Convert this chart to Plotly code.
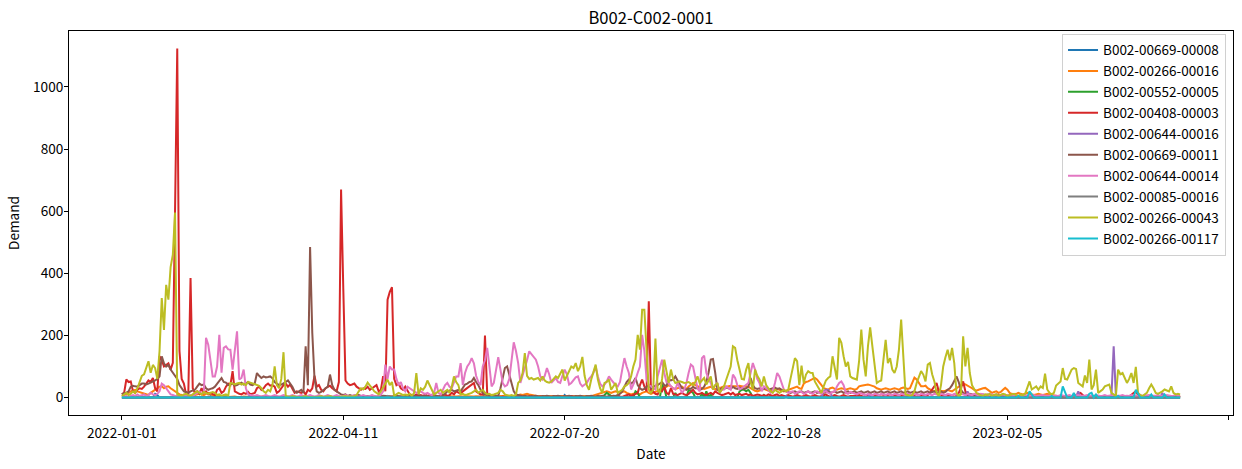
import pandas as pd
import plotly.graph_objects as go

START = "2022-01-01"
TITLE = "B002-C002-0001"
NAMES = ["B002-00669-00008", "B002-00266-00016", "B002-00552-00005", "B002-00408-00003",
         "B002-00644-00016", "B002-00669-00011", "B002-00644-00014", "B002-00085-00016",
         "B002-00266-00043", "B002-00266-00117"]
COLORS = ["#1f77b4", "#ff7f0e", "#2ca02c", "#d62728", "#9467bd",
          "#8c564b", "#e377c2", "#7f7f7f", "#bcbd22", "#17becf"]
TICK_DATES = ["2022-01-01", "2022-04-11", "2022-07-20", "2022-10-28", "2023-02-05", "2023-05-16"]
TICK_TEXT = ["2022-01-01", "2022-04-11", "2022-07-20", "2022-10-28", "2023-02-05", ""]

red = [10, 15, 58, 50, 52, 20, 15, 25, 30, 28,
       35, 45, 55, 50, 63, 30, 20, 133, 120, 100,
       105, 110, 90, 112, 600, 1124, 150, 60, 45, 10,
       12, 385, 30, 15, 20, 12, 30, 15, 20, 10,
       15, 12, 8, 25, 30, 15, 20, 35, 45, 40,
       85, 20, 15, 12, 10, 15, 12, 18, 10, 12,
       15, 30, 35, 25, 30, 40, 45, 38, 40, 35,
       15, 20, 30, 40, 45, 35, 42, 30, 15, 20,
       18, 15, 20, 10, 25, 20, 30, 70, 35, 40,
       25, 20, 30, 35, 38, 30, 25, 20, 50, 670,
       350, 55, 45, 40, 42, 45, 35, 30, 25, 30,
       28, 35, 25, 30, 35, 40, 20, 25, 69, 20,
       315, 340, 355, 60, 40, 45, 30, 25, 35, 20,
       10, 8, 5, 10, 5, 8, 5, 10, 5, 8,
       5, 8, 5, 3, 5, 8, 10, 5, 8, 15,
       10, 20, 15, 12, 20, 25, 30, 35, 40, 47,
       20, 15, 10, 10, 200, 15, 5, 3, 2, 0,
       2, 0, 3, 2, 0, 2, 3, 0, 2, 0,
       3, 2, 0, 2, 5, 3, 2, 0, 2, 3,
       0, 2, 3, 0, 2, 0, 3, 2, 0, 2,
       3, 0, 2, 5, 3, 0, 2, 3, 0, 2,
       0, 3, 2, 0, 2, 5, 3, 2, 0, 2,
       3, 2, 0, 5, 8, 3, 2, 5, 8, 10,
       5, 8, 10, 15, 40, 58, 36, 20, 310, 15,
       20, 12, 10, 25, 20, 35, 15, 10, 30, 12,
       10, 8, 12, 15, 10, 8, 12, 20, 25, 15,
       10, 12, 15, 10, 8, 12, 15, 10, 20, 15,
       12, 8, 10, 12, 15, 10, 15, 8, 10, 12,
       8, 10, 12, 8, 10, 5, 8, 10, 8, 5,
       8, 5, 10, 8, 5, 8, 10, 5, 8, 5,
       5, 8, 5, 3, 5, 8, 5, 3, 5, 8,
       5, 3, 5, 8, 5, 3, 5, 8, 10, 5,
       3, 5, 8, 5, 3, 5, 8, 5, 3, 5,
       5, 3, 5, 8, 5, 3, 5, 8, 5, 3,
       5, 8, 5, 3, 5, 8, 5, 3, 5, 8,
       5, 3, 5, 8, 5, 3, 5, 8, 5, 3,
       5, 8, 10, 5, 8, 15, 25, 35, 47, 20,
       8, 5, 3, 5, 8, 5, 3, 5, 15, 30,
       52, 20, 8, 5, 3, 5, 3, 2, 3, 5,
       3, 2, 3, 5, 3, 2, 3, 2, 3, 5,
       3, 2, 3, 2, 3, 5, 3, 2, 3, 2,
       3, 5, 3, 2, 3, 2, 3, 5, 3, 2,
       3, 2, 3, 5, 3, 2, 3, 2, 3, 5,
       3, 8, 12, 15, 8, 3, 2, 3, 5, 3,
       2, 3, 2, 3, 5, 3, 2, 3, 2, 3,
       5, 3, 2, 3, 2, 3, 8, 15, 20, 8,
       3, 2, 3, 5, 3, 2, 3, 2, 3, 5,
       3, 2, 3, 2, 3, 5, 3, 2, 3]

brown = [10, 15, 15, 20, 35, 38, 36, 35, 40, 45,
         45, 42, 45, 48, 50, 55, 60, 68, 133, 110,
         100, 105, 90, 80, 70, 60, 40, 30, 20, 18,
         15, 20, 22, 25, 35, 45, 40, 42, 30, 25,
         28, 30, 35, 45, 55, 63, 50, 48, 40, 42,
         45, 38, 40, 45, 48, 42, 45, 50, 42, 40,
         45, 79, 70, 63, 68, 65, 66, 68, 62, 50,
         45, 40, 42, 45, 50, 55, 45, 35, 20, 15,
         20, 25, 15, 165, 40, 485, 208, 60, 20, 15,
         18, 25, 30, 35, 74, 40, 25, 20, 15, 10,
         8, 10, 5, 8, 5, 6, 5, 8, 5, 5,
         3, 5, 4, 6, 5, 3, 5, 4, 6, 5,
         4, 5, 3, 6, 5, 4, 5, 3, 5, 6,
         5, 4, 6, 5, 3, 5, 4, 6, 5, 3,
         5, 4, 6, 5, 3, 8, 12, 20, 22, 25,
         20, 22, 25, 20, 30, 42, 45, 50, 52, 63,
         50, 40, 25, 15, 10, 8, 5, 8, 5, 6,
         5, 30, 60, 95, 100, 70, 40, 20, 10, 8,
         5, 4, 6, 5, 3, 5, 4, 6, 5, 3,
         5, 4, 6, 5, 3, 5, 4, 6, 5, 3,
         5, 4, 6, 5, 3, 5, 4, 6, 5, 3,
         5, 4, 6, 5, 3, 5, 4, 6, 5, 3,
         5, 4, 6, 5, 8, 12, 20, 36, 50, 58,
         45, 50, 63, 40, 30, 25, 28, 35, 40, 30,
         35, 38, 40, 45, 50, 40, 38, 58, 55, 58,
         68, 55, 40, 30, 28, 25, 30, 28, 35, 30,
         30, 25, 28, 35, 50, 80, 122, 124, 80, 25,
         25, 30, 28, 32, 30, 28, 35, 30, 28, 32,
         30, 28, 30, 35, 63, 40, 30, 28, 30, 25,
         28, 30, 25, 28, 30, 32, 28, 30, 25, 22,
         20, 18, 15, 18, 20, 15, 18, 20, 15, 18,
         20, 15, 18, 20, 15, 18, 20, 15, 18, 20,
         15, 18, 20, 15, 18, 20, 15, 18, 20, 15,
         18, 20, 15, 18, 20, 15, 18, 20, 15, 18,
         20, 15, 18, 20, 15, 18, 20, 15, 18, 20,
         15, 18, 20, 15, 18, 20, 15, 18, 20, 15,
         18, 20, 15, 18, 20, 15, 18, 20, 15, 18,
         20, 15, 18, 25, 30, 40, 55, 68, 50, 25,
         15, 12, 10, 12, 10, 8, 10, 12, 8, 10,
         8, 10, 8, 6, 8, 10, 8, 6, 8, 5,
         6, 5, 4, 5, 6, 4, 5, 3, 4, 5,
         3, 4, 5, 3, 4, 3, 5, 4, 3, 4,
         3, 4, 3, 5, 4, 3, 4, 3, 5, 4,
         3, 4, 3, 5, 4, 3, 4, 3, 5, 4,
         3, 4, 3, 5, 4, 3, 4, 3, 5, 4,
         3, 4, 3, 5, 4, 3, 4, 3, 5, 4,
         3, 4, 3, 5, 4, 3, 4, 3, 5, 4,
         3, 4, 3, 5, 4, 3, 4, 3, 5]

pink = [2, 3, 5, 3, 5, 8, 5, 10, 5, 8,
        10, 5, 8, 15, 10, 8, 12, 20, 45, 40,
        30, 20, 10, 8, 5, 5, 5, 3, 5, 5,
        5, 8, 5, 10, 15, 20, 12, 15, 192, 170,
        120, 68, 68, 100, 202, 80, 160, 165, 155, 154,
        90, 150, 213, 58, 63, 90, 30, 10, 8, 5,
        5, 8, 5, 3, 5, 8, 5, 3, 5, 8,
        5, 3, 5, 8, 5, 3, 5, 8, 5, 3,
        5, 8, 5, 3, 5, 8, 5, 3, 5, 8,
        5, 3, 5, 8, 5, 3, 5, 8, 5, 3,
        5, 8, 5, 3, 5, 8, 5, 3, 5, 8,
        5, 3, 5, 8, 5, 3, 5, 10, 20, 106,
        60, 100, 90, 90, 60, 40, 50, 30, 20, 35,
        30, 25, 20, 15, 18, 20, 15, 12, 15, 10,
        8, 15, 47, 15, 10, 25, 40, 47, 35, 30,
        50, 68, 68, 111, 40, 79, 100, 110, 127, 110,
        70, 50, 40, 100, 120, 160, 100, 36, 47, 90,
        130, 90, 47, 36, 40, 60, 111, 178, 150, 111,
        47, 70, 90, 120, 149, 140, 133, 122, 100, 68,
        58, 70, 95, 75, 47, 55, 63, 50, 47, 70,
        90, 75, 42, 47, 58, 65, 68, 45, 36, 42,
        47, 60, 68, 80, 100, 68, 45, 36, 42, 52,
        68, 58, 47, 40, 36, 50, 90, 127, 100, 79,
        26, 40, 58, 80, 100, 202, 150, 58, 40, 36,
        30, 26, 68, 100, 122, 79, 50, 47, 36, 30,
        26, 47, 30, 15, 25, 47, 80, 106, 100, 70,
        30, 20, 127, 135, 80, 60, 47, 26, 40, 47,
        15, 25, 26, 36, 30, 25, 74, 63, 40, 26,
        30, 36, 40, 47, 80, 111, 90, 60, 47, 20,
        36, 30, 25, 15, 20, 47, 79, 68, 50, 26,
        20, 15, 18, 20, 12, 15, 20, 18, 12, 15,
        20, 15, 12, 18, 20, 15, 12, 18, 20, 15,
        12, 18, 20, 36, 47, 52, 40, 15, 12, 18,
        15, 12, 10, 15, 12, 10, 8, 12, 10, 8,
        12, 10, 8, 12, 10, 8, 12, 10, 8, 12,
        10, 8, 12, 10, 8, 12, 10, 8, 12, 10,
        8, 12, 10, 8, 12, 10, 8, 12, 10, 8,
        12, 10, 8, 12, 10, 8, 12, 10, 8, 12,
        10, 8, 12, 10, 8, 12, 10, 8, 12, 10,
        8, 6, 8, 10, 6, 8, 6, 8, 10, 6,
        8, 6, 5, 6, 8, 5, 6, 5, 8, 6,
        5, 6, 8, 5, 6, 5, 8, 6, 5, 6,
        8, 5, 6, 5, 8, 6, 5, 6, 8, 5,
        6, 5, 8, 6, 5, 6, 8, 5, 6, 5,
        8, 6, 5, 6, 8, 5, 6, 5, 8, 6,
        5, 6, 8, 5, 6, 5, 8, 6, 5, 6,
        8, 5, 6, 5, 8, 6, 5, 6, 8, 5,
        6, 5, 8, 6, 5, 6, 8, 5, 6]

orange = [5, 8, 10, 15, 20, 22, 25, 20, 18, 15,
          12, 10, 8, 15, 20, 25, 30, 35, 36, 30,
          35, 36, 30, 25, 20, 15, 10, 8, 5, 5,
          5, 3, 5, 8, 10, 12, 10, 8, 12, 15,
          10, 8, 5, 3, 5, 2, 3, 5, 2, 3,
          2, 3, 2, 1, 2, 3, 2, 1, 2, 3,
          2, 1, 2, 3, 5, 3, 2, 1, 2, 3,
          2, 1, 2, 3, 2, 1, 2, 3, 2, 1,
          2, 3, 2, 1, 2, 3, 2, 1, 2, 3,
          2, 1, 2, 3, 2, 1, 2, 3, 2, 1,
          2, 3, 2, 1, 2, 3, 2, 1, 2, 3,
          2, 1, 2, 3, 2, 1, 2, 3, 2, 1,
          2, 3, 2, 1, 2, 3, 2, 1, 2, 3,
          2, 3, 4, 3, 2, 3, 4, 3, 2, 3,
          4, 3, 2, 3, 4, 3, 2, 3, 4, 3,
          2, 3, 4, 3, 2, 3, 4, 3, 2, 3,
          4, 3, 2, 3, 4, 3, 2, 3, 4, 3,
          4, 5, 4, 5, 6, 5, 4, 5, 6, 8,
          10, 8, 10, 12, 10, 8, 6, 5, 4, 5,
          6, 5, 4, 5, 6, 5, 4, 5, 6, 5,
          4, 5, 6, 5, 4, 5, 6, 5, 4, 5,
          6, 5, 4, 6, 8, 10, 12, 15, 18, 20,
          18, 15, 18, 20, 18, 15, 18, 20, 15, 12,
          10, 12, 15, 12, 10, 15, 18, 20, 15, 12,
          15, 18, 20, 22, 25, 30, 35, 40, 36, 30,
          28, 30, 32, 35, 30, 28, 36, 42, 47, 40,
          36, 32, 30, 28, 30, 32, 35, 30, 28, 25,
          30, 32, 36, 35, 36, 38, 36, 35, 36, 38,
          36, 35, 36, 35, 30, 25, 22, 20, 22, 25,
          28, 25, 22, 20, 22, 25, 28, 25, 22, 20,
          22, 25, 28, 30, 32, 35, 30, 28, 45, 50,
          52, 55, 60, 63, 58, 50, 40, 30, 28, 25,
          30, 32, 28, 25, 28, 30, 28, 25, 28, 30,
          28, 25, 28, 36, 38, 40, 42, 42, 40, 38,
          35, 30, 28, 25, 28, 30, 28, 25, 28, 30,
          28, 25, 30, 32, 30, 28, 30, 47, 64, 58,
          45, 36, 36, 38, 30, 25, 22, 20, 22, 25,
          22, 20, 22, 25, 22, 20, 25, 30, 36, 40,
          45, 42, 38, 36, 30, 25, 22, 25, 28, 30,
          31, 25, 20, 15, 18, 20, 15, 18, 25, 31,
          25, 15, 12, 10, 12, 15, 12, 10, 12, 15,
          12, 10, 8, 10, 12, 10, 8, 10, 12, 10,
          8, 6, 5, 4, 5, 6, 5, 4, 5, 6,
          5, 4, 5, 6, 5, 4, 5, 6, 5, 4,
          5, 6, 5, 4, 5, 6, 5, 4, 5, 6,
          5, 4, 5, 6, 5, 4, 5, 6, 5, 4,
          5, 6, 5, 4, 5, 6, 5, 4, 5, 6,
          5, 4, 5, 6, 5, 4, 5, 6, 5]

olive = [5, 10, 15, 8, 12, 20, 15, 30, 50, 70,
         75, 95, 117, 80, 105, 95, 60, 150, 320, 218,
         363, 315, 420, 460, 596, 10, 8, 5, 10, 12,
         8, 5, 10, 15, 20, 15, 10, 18, 15, 12,
         15, 18, 15, 8, 10, 5, 8, 10, 5, 47,
         45, 42, 45, 47, 42, 45, 40, 50, 48, 45,
         42, 40, 38, 30, 20, 15, 25, 20, 40, 100,
         40, 30, 60, 146, 5, 3, 2, 5, 3, 2,
         0, 2, 3, 5, 2, 3, 2, 0, 2, 3,
         5, 2, 3, 2, 5, 3, 2, 0, 2, 3,
         2, 5, 3, 2, 3, 5, 8, 20, 30, 26,
         35, 48, 40, 30, 20, 15, 10, 20, 35, 45,
         58, 40, 50, 5, 10, 15, 12, 8, 10, 8,
         12, 5, 15, 79, 10, 30, 25, 35, 55, 40,
         20, 10, 15, 20, 25, 15, 20, 25, 15, 35,
         68, 50, 40, 10, 12, 8, 10, 12, 15, 20,
         25, 15, 20, 25, 15, 10, 12, 8, 10, 12,
         15, 25, 20, 10, 8, 5, 8, 5, 10, 47,
         55, 79, 143, 70, 60, 63, 58, 60, 63, 55,
         68, 55, 50, 48, 52, 60, 68, 63, 75, 90,
         55, 70, 90, 100, 95, 111, 85, 100, 131, 70,
         40, 25, 58, 80, 106, 58, 30, 15, 47, 50,
         58, 25, 35, 47, 15, 20, 25, 36, 40, 47,
         68, 100, 122, 202, 154, 283, 283, 154, 25, 15,
         25, 190, 25, 15, 60, 122, 80, 47, 90, 60,
         47, 50, 52, 50, 47, 48, 50, 45, 40, 50,
         68, 47, 55, 63, 42, 55, 68, 26, 40, 47,
         15, 25, 36, 58, 80, 100, 165, 160, 120, 90,
         60, 58, 90, 111, 50, 26, 90, 70, 58, 36,
         68, 40, 31, 20, 15, 25, 20, 15, 20, 25,
         20, 25, 60, 90, 127, 117, 40, 103, 47, 74,
         85, 80, 79, 52, 40, 25, 15, 36, 55, 63,
         68, 133, 90, 58, 192, 176, 133, 100, 115, 68,
         63, 60, 58, 117, 219, 122, 68, 165, 226, 165,
         100, 47, 52, 55, 122, 186, 111, 127, 90, 79,
         100, 154, 251, 120, 10, 8, 5, 8, 20, 47,
         70, 85, 74, 52, 106, 111, 75, 52, 15, 5,
         40, 100, 130, 154, 120, 160, 110, 15, 5, 10,
         197, 100, 160, 79, 40, 26, 15, 10, 8, 5,
         10, 8, 12, 5, 8, 10, 5, 8, 12, 10,
         5, 8, 10, 12, 8, 5, 10, 8, 12, 30,
         52, 26, 30, 36, 25, 36, 31, 77, 26, 15,
         10, 15, 39, 45, 52, 95, 60, 58, 75, 90,
         95, 92, 47, 40, 36, 71, 47, 122, 26, 40,
         90, 15, 20, 26, 36, 40, 42, 15, 10, 5,
         90, 75, 79, 60, 47, 60, 79, 47, 99, 15,
         8, 5, 10, 15, 30, 42, 30, 15, 12, 15,
         20, 26, 22, 20, 36, 15, 10, 12, 10]

# low-volume series: day index -> value (all other days are 0)
blue_days = [15, 16, 58, 134, 164, 165, 200, 300, 410]
blue_vals = [12, 8, 10, 10, 15, 8, 8, 5, 5]
green_days = [218, 219, 220, 221, 232, 233, 244, 245, 250, 256, 257, 258, 262, 264, 266,
              279, 280, 281, 282, 283, 284, 290, 300]
green_vals = [8, 15, 10, 5, 20, 15, 42, 30, 15, 25, 20, 15, 12, 20, 10,
              20, 25, 25, 20, 25, 15, 8, 5]
purple_days = [300, 317, 318, 319, 320, 338, 382, 432, 447, 448, 449, 470]
purple_vals = [5, 20, 25, 25, 15, 15, 20, 20, 5, 165, 5, 15]
gray_days = [40, 120, 250, 400]
gray_vals = [5, 5, 5, 3]
cyan_days = [405, 410, 411, 420, 425, 426, 430, 437, 438, 440, 450, 458, 459, 465, 471]
cyan_vals = [5, 20, 8, 5, 36, 15, 15, 12, 15, 10, 5, 25, 10, 10, 10]

N = len(olive)


def sparse(days, vals):
    out = [0] * N
    for d, v in zip(days, vals):
        out[d] = v
    return out


series = [sparse(blue_days, blue_vals), orange, sparse(green_days, green_vals), red,
          sparse(purple_days, purple_vals), brown, pink, sparse(gray_days, gray_vals),
          olive, sparse(cyan_days, cyan_vals)]

fig = go.Figure()
for name, color, vals in zip(NAMES, COLORS, series):
    x = pd.date_range(START, periods=len(vals), freq="D")
    fig.add_trace(go.Scatter(x=x, y=vals, mode="lines", name=name, legendgroup=name,
                             line=dict(color=color, width=2)))

t0 = pd.Timestamp(START)
pad = (N - 1) * 0.05
x0 = t0 - pd.Timedelta(days=pad)
x1 = t0 + pd.Timedelta(days=(N - 1) + pad)
ymax = max(max(s) for s in series)
ypad = ymax * 0.05

FONT = "Noto Sans CJK KR"
FS = 13.6
fig.update_layout(
    width=1242, height=469,
    margin=dict(l=69, r=9, t=31, b=54, autoexpand=False),
    paper_bgcolor="white", plot_bgcolor="white",
    font=dict(family=FONT, size=FS, color="black"),
    title=dict(text=TITLE, x=0.5, xref="paper", xanchor="center",
               y=0.962, yref="container", yanchor="middle",
               font=dict(size=16.6, family=FONT, color="black")),
    showlegend=True,
    legend=dict(x=0.994, y=0.993, xanchor="right", yanchor="top",
                bgcolor="rgba(255,255,255,0.85)", bordercolor="#d0d0d0", borderwidth=1,
                font=dict(size=13.5, family=FONT), tracegroupgap=0.4),
)
fig.update_xaxes(
    range=[x0, x1], tickvals=TICK_DATES, ticktext=TICK_TEXT,
    showgrid=False, zeroline=False, showline=True, linecolor="black", linewidth=1,
    mirror=True, ticks="outside", ticklen=4, tickcolor="black", automargin=False,
    title=dict(text="Date", standoff=8, font=dict(size=FS, family=FONT)),
    tickfont=dict(size=FS), ticklabelstandoff=2,
)
fig.update_yaxes(
    range=[-ypad, ymax + ypad], tickvals=[0, 200, 400, 600, 800, 1000],
    showgrid=False, zeroline=False, showline=True, linecolor="black", linewidth=1,
    mirror=True, ticks="outside", ticklen=4, tickcolor="black", automargin=False,
    title=dict(text="Demand", standoff=10, font=dict(size=FS, family=FONT)),
    tickfont=dict(size=FS), ticklabelstandoff=-2,
)
fig.write_html("out.html", config={"displayModeBar": False})

# page body without default margin so the figure sits at the window origin
with open("out.html", encoding="utf-8") as f:
    html = f.read()
html = html.replace("<head>", "<head><style>html,body{margin:0;padding:0;overflow:hidden;}</style>", 1)
with open("out.html", "w", encoding="utf-8") as f:
    f.write(html)
